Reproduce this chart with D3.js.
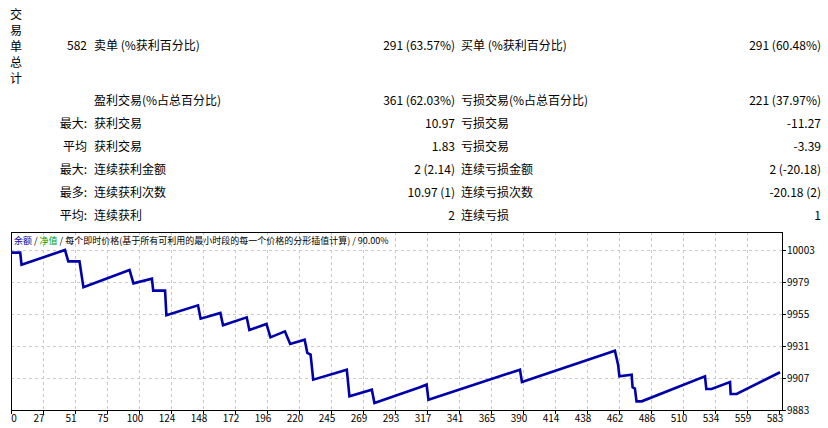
<!DOCTYPE html>
<html><head><meta charset="utf-8">
<script src="https://d3js.org/d3.v7.min.js"></script>
<style>body{margin:0;background:#fff}svg{display:block}text{font-family:"Noto Sans CJK SC",sans-serif}</style>
</head><body><svg id="c" width="828" height="428"></svg>
<script>
const leftLabels = ["", "", "最大:", "平均", "最大:", "最多:", "平均:"];
const midLabels = ["卖单 (%获利百分比)", "盈利交易(%占总百分比)", "获利交易", "获利交易", "连续获利金额", "连续获利次数", "连续获利"];
const midValues = ["291 (63.57%)", "361 (62.03%)", "10.97", "1.83", "2 (2.14)", "10.97 (1)", "2"];
const rightLabels = ["买单 (%获利百分比)", "亏损交易(%占总百分比)", "亏损交易", "亏损交易", "连续亏损金额", "连续亏损次数", "连续亏损"];
const rightValues = ["291 (60.48%)", "221 (37.97%)", "-11.27", "-3.39", "2 (-20.18)", "-20.18 (2)", "1"];
const totalLabel = ["交","易","单","总","计"];
const totalValue = "582";
const xTickLabels = [0,27,51,75,100,124,148,172,196,220,245,269,293,317,341,365,390,414,438,462,486,510,534,559,583];
const yTicks = [9883,9907,9931,9955,9979,10003];
const tradeIdx = [0,7,8,41,43.5,52,55,90,93,107,108,117,118,142,144,159,161,179,181,194,197,208,212,223,225,227.5,229.5,255,257,274,276,310.5,315.6,317,386.5,388,458.6,461,462,471.3,472,473.8,475,479,527,528,532,546,546.5,551,584];
const balance = [10001,10001,9992,10003,9994.5,9994.5,9975,9988,9978,9981.5,9972.5,9972.5,9954,9961.5,9951.5,9955.75,9946.5,9952.5,9943,9947.5,9937.5,9942,9932.5,9935.7,9925.75,9924.5,9905.75,9913.25,9893.25,9898.25,9888.25,9900,9902,9890.75,9913.25,9904,9927.5,9917,9908.3,9909.5,9900,9899,9889.5,9889.5,9908.3,9898.75,9898.75,9904,9895,9895,9911.3];

const svg = d3.select("#c");
const rowY = [50,105,128,151,174,197,220];
// vertical label
totalLabel.forEach((t,i)=>svg.append("text").attr("x",16).attr("y",19+i*16).attr("text-anchor","middle").attr("font-size",12).text(t));
svg.append("text").attr("x",87).attr("y",rowY[0]).attr("text-anchor","end").attr("font-size",12).text(totalValue);
rowY.forEach((y,i)=>{
  svg.append("text").attr("x",87).attr("y",y).attr("text-anchor","end").attr("font-size",12).text(leftLabels[i]);
  svg.append("text").attr("x",94).attr("y",y).attr("font-size",12).text(midLabels[i]);
  svg.append("text").attr("x",455).attr("y",y).attr("text-anchor","end").attr("font-size",12).text(midValues[i]);
  svg.append("text").attr("x",461).attr("y",y).attr("font-size",12).text(rightLabels[i]);
  svg.append("text").attr("x",821).attr("y",y).attr("text-anchor","end").attr("font-size",12).text(rightValues[i]);
});

// chart
const L=11,R=782,T=232,B=410;
const x = d3.scaleLinear().domain([0,583*32/24.3*24.3/32]).range([L, L+583*32/24.3]);
const y = d3.scaleLinear().domain([9883,10003]).range([410,250]);
const g = svg.append("g");
// grid
for(let k=1;k<24;k++){ g.append("line").attr("x1",L+32*k+0.5).attr("x2",L+32*k+0.5).attr("y1",T).attr("y2",B).attr("stroke","#c8c8c8").attr("stroke-dasharray","3,3"); }
yTicks.slice(1).forEach(v=>g.append("line").attr("x1",L).attr("x2",R).attr("y1",Math.round(y(v))+0.5).attr("y2",Math.round(y(v))+0.5).attr("stroke","#c8c8c8").attr("stroke-dasharray","3,3"));
g.append("rect").attr("x",L+0.5).attr("y",T+0.5).attr("width",R-L).attr("height",B-T).attr("fill","none").attr("stroke","#000");
// y ticks
yTicks.forEach(v=>{
  g.append("line").attr("x1",R).attr("x2",R+4).attr("y1",Math.round(y(v))+0.5).attr("y2",Math.round(y(v))+0.5).attr("stroke","#000");
  g.append("text").attr("x",787).attr("y",y(v)+4).attr("font-size",10).attr("font-family","Tahoma, DejaVu Sans").text(v);
});
xTickLabels.forEach((v,k)=>{
  g.append("line").attr("x1",L+32*k+0.5).attr("x2",L+32*k+0.5).attr("y1",B).attr("y2",B+4).attr("stroke","#000");
  g.append("text").attr("x",k===0?14:L+32*k-4).attr("y",422).attr("text-anchor","middle").attr("font-size",10).text(v);
});
// line
const pts = tradeIdx.map((t,i)=>[t,balance[i]]);
g.append("path").datum(pts).attr("fill","none").attr("stroke","#0000aa").attr("stroke-width",2.6)
  .attr("d",d3.line().x(d=>x(d[0])).y(d=>y(d[1])));
// legend
const lg = g.append("text").attr("x",14).attr("y",244).attr("font-size",9);
lg.append("tspan").attr("fill","#0000aa").text("余额");
lg.append("tspan").attr("fill","#000").text(" / ");
lg.append("tspan").attr("fill","#00a000").text("净值");
lg.append("tspan").attr("fill","#000").text(" / 每个即时价格(基于所有可利用的最小时段的每一个价格的分形插值计算) / 90.00%");
</script></body></html>
